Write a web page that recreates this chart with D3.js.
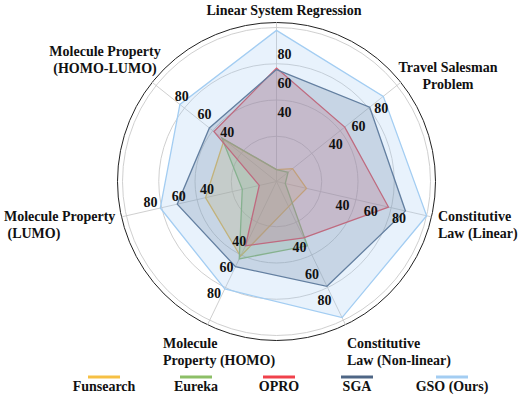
<!DOCTYPE html>
<html>
<head>
<meta charset="utf-8">
<script src="https://cdn.jsdelivr.net/npm/d3@7"></script>
<style>
  body { margin: 0; background: #fff; }
</style>
</head>
<body>
<div id="chart"></div>
<script>
// axes, clockwise from the top
const categories = [
  ["Linear System Regression"],
  ["Travel Salesman", "Problem"],
  ["Constitutive", "Law (Linear)"],
  ["Constitutive", "Law (Non-linear)"],
  ["Molecule", "Property (HOMO)"],
  ["Molecule Property", " (LUMO)"],
  ["Molecule Property", "(HOMO-LUMO)"]
];
const seriesNames = ["Funsearch", "Eureka", "OPRO", "SGA", "GSO (Ours)"];
const funsearch = [2, 8, 15, 13, 51, 44, 40];
const eureka = [2, 4, 0, 43, 53, 18, 42];
const opro = [72, 54, 73, 37, 43, 6, 49];
const sga = [71, 76, 85, 74, 59, 64, 53];
const gso = [98, 88, 100, 98, 76, 76, 79];
const tickValues = [40, 60, 80];
const gridValues = [25, 50, 75, 100];

const colors = ["#f6c044", "#8cbf67", "#f0414b", "#4e6685", "#a3cdf2"];
const allSeries = [funsearch, eureka, opro, sga, gso];

const width = 520, height = 395;
const cx = 276.5, cy = 181.5;
const n = categories.length;
const FONT = "Liberation Serif";

const svg = d3.select("#chart").append("svg")
  .attr("width", width).attr("height", height);

const r = d3.scaleLinear().domain([0, 100]).range([9, 154]);
const angle = i => i * 2 * Math.PI / n;

const g = svg.append("g").attr("transform", `translate(${cx},${cy})`);

// grid rings
g.selectAll("circle.grid")
  .data(gridValues)
  .join("circle")
  .attr("class", "grid")
  .attr("r", d => r(d))
  .attr("fill", "none")
  .attr("stroke", "#c9c9c9")
  .attr("stroke-width", 0.9);

// outer frame
g.append("circle")
  .attr("r", 159)
  .attr("fill", "none")
  .attr("stroke", "#222")
  .attr("stroke-width", 1);

// spokes
g.selectAll("line.spoke")
  .data(categories)
  .join("line")
  .attr("class", "spoke")
  .attr("x1", 0).attr("y1", 0)
  .attr("x2", (d, i) => 159 * Math.sin(angle(i)))
  .attr("y2", (d, i) => -159 * Math.cos(angle(i)))
  .attr("stroke", "#c9c9c9")
  .attr("stroke-width", 0.9);

const radar = d3.lineRadial()
  .angle((d, i) => angle(i))
  .radius(d => r(d))
  .curve(d3.curveLinearClosed);

g.selectAll("path.series")
  .data(allSeries)
  .join("path")
  .attr("class", "series")
  .attr("d", d => radar(d))
  .attr("fill", (d, i) => colors[i])
  .attr("fill-opacity", 0.25)
  .attr("stroke", (d, i) => colors[i])
  .attr("stroke-width", 1.3);

function label(sel) {
  return sel.attr("font-family", FONT)
    .attr("font-weight", "bold")
    .attr("font-size", 14)
    .attr("fill", "#111");
}

// tick labels on every axis
categories.forEach((c, i) => {
  const a = angle(i);
  g.selectAll(null)
    .data(tickValues)
    .join("text")
    .attr("x", v => (r(v) + 2.5) * Math.sin(a) + 8 * Math.cos(a))
    .attr("y", v => -(r(v) + 2.5) * Math.cos(a) + 8 * Math.sin(a))
    .attr("text-anchor", "middle")
    .attr("dy", "0.35em")
    .call(label)
    .text(v => v);
});

// category labels
const labelPos = [
  {x: 284, y: 15, anchor: "middle"},
  {x: 448, y: 72, anchor: "middle"},
  {x: 438, y: 221, anchor: "start"},
  {x: 347, y: 348, anchor: "start"},
  {x: 163, y: 348, anchor: "start"},
  {x: 4, y: 221, anchor: "start"},
  {x: 105, y: 56, anchor: "middle"}
];
categories.forEach((lines, i) => {
  const p = labelPos[i];
  const t = svg.append("text")
    .attr("x", p.x).attr("y", p.y)
    .attr("text-anchor", p.anchor)
    .call(label)
    .style("white-space", "pre");
  lines.forEach((s, k) => {
    t.append("tspan").attr("x", p.x).attr("dy", k === 0 ? 0 : 17).text(s);
  });
});

// legend
const legendX = [104, 196, 279, 357, 452];
const legend = svg.append("g");
seriesNames.forEach((name, i) => {
  legend.append("line")
    .attr("x1", legendX[i] - 16).attr("x2", legendX[i] + 16)
    .attr("y1", 377).attr("y2", 377)
    .attr("stroke", colors[i]).attr("stroke-width", 3);
  legend.append("text")
    .attr("x", legendX[i]).attr("y", 391)
    .attr("text-anchor", "middle")
    .call(label)
    .text(name);
});
</script>
</body>
</html>
